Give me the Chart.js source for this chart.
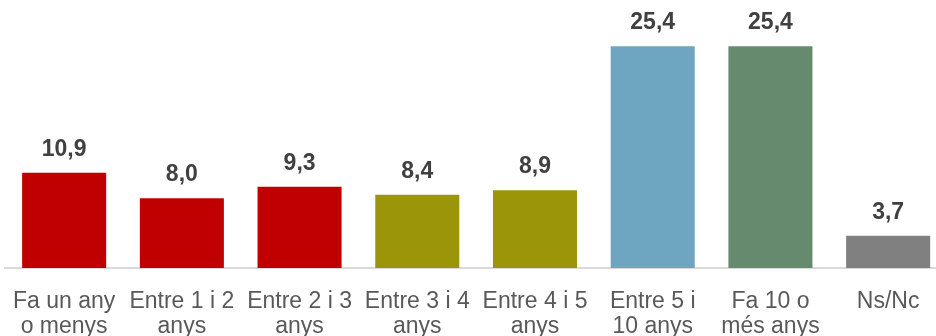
<!DOCTYPE html>
<html>
<head>
<meta charset="utf-8">
<script src="https://cdn.jsdelivr.net/npm/chart.js@4/dist/chart.umd.min.js"></script>
<style>
	html, body { margin: 0; padding: 0; background: #fff; overflow: hidden; }
	#wrap { width: 955px; height: 360px; margin-left: -8px; }
</style>
</head>
<body>
<div id="wrap"><canvas id="bar-chart"></canvas></div>
<script>
const categories = [
	["Fa un any", "o menys"],
	["Entre 1 i 2", "anys"],
	["Entre 2 i 3", "anys"],
	["Entre 3 i 4", "anys"],
	["Entre 4 i 5", "anys"],
	["Entre 5 i", "10 anys"],
	["Fa 10 o", "més anys"],
	["Ns/Nc"]
];
const values = [10.9, 8.0, 9.3, 8.4, 8.9, 25.4, 25.4, 3.7];
const barColors = ["#C00000", "#C00000", "#C00000", "#9B950A", "#9B950A", "#6EA6C1", "#668A6E", "#808080"];

// etiquetes de valor damunt de cada barra
const valueLabels = {
	id: 'valueLabels',
	afterDatasetsDraw(chart) {
		const ctx = chart.ctx;
		const meta = chart.getDatasetMeta(0);
		ctx.save();
		ctx.font = 'bold 23px "Liberation Sans", Arial, sans-serif';
		ctx.fillStyle = '#404040';
		ctx.textAlign = 'center';
		ctx.textBaseline = 'alphabetic';
		meta.data.forEach((bar, i) => {
			ctx.fillText(values[i].toFixed(1).replace('.', ','), bar.x, bar.y - 17);
		});
		ctx.restore();
	}
};

new Chart(document.getElementById("bar-chart"), {
	type: 'bar',
	data: {
		labels: categories,
		datasets: [{
			data: values,
			backgroundColor: barColors,
			barPercentage: 0.714,
			categoryPercentage: 1
		}]
	},
	options: {
		responsive: true,
		maintainAspectRatio: false,
		animation: false,
		layout: { padding: { left: 0, top: 6, right: 0, bottom: 0 } },
		plugins: {
			legend: { display: false },
			tooltip: { enabled: false }
		},
		scales: {
			x: {
				grid: { display: false, drawTicks: false },
				border: { display: true, color: '#D9D9D9', width: 2 },
				ticks: {
					color: '#595959',
					padding: 21,
					maxRotation: 0,
					autoSkip: false,
					font: { family: '"Liberation Sans", Arial, sans-serif', size: 23, lineHeight: 1.087 }
				}
			},
			y: {
				display: false,
				min: 0,
				max: 30
			}
		}
	},
	plugins: [valueLabels]
});
</script>
</body>
</html>
